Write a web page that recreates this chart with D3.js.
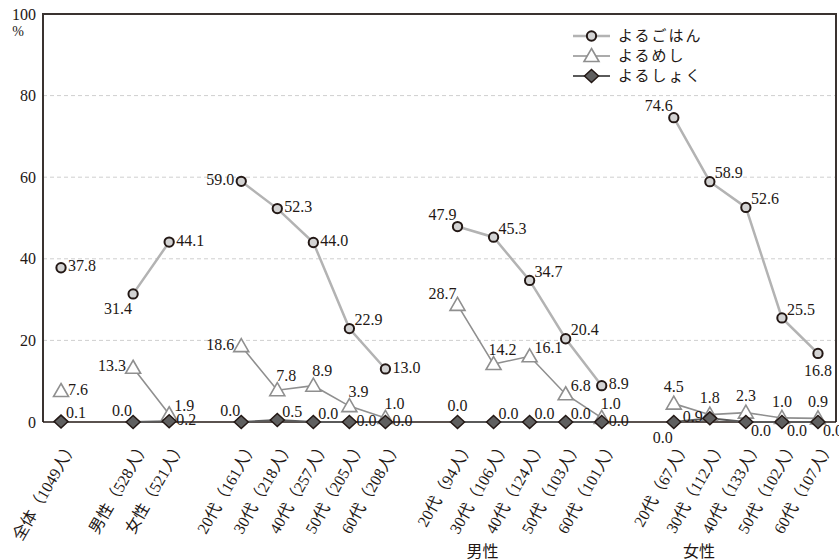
<!DOCTYPE html>
<html>
<head>
<meta charset="utf-8">
<script src="https://cdn.jsdelivr.net/npm/d3@7"></script>
<style>
  body { margin: 0; background: #fff; }
  svg, svg text { font-family: 'Liberation Serif', 'Times New Roman', 'DejaVu Serif', 'Noto Sans CJK JP', serif; }
  svg text { fill: #231815; }
</style>
</head>
<body>
<div id="chart"></div>
<script>
// categories (empty strings are the gaps between groups)
const categories = ["全体（1049人）", "", "男性（528人）", "女性（521人）", "",
  "20代（161人）", "30代（218人）", "40代（257人）", "50代（205人）", "60代（208人）", "",
  "20代（94人）", "30代（106人）", "40代（124人）", "50代（103人）", "60代（101人）", "",
  "20代（67人）", "30代（112人）", "40代（133人）", "50代（102人）", "60代（107人）"]
const groupLabels = [{ name: "男性", at: 13 }, { name: "女性", at: 19 }]

const seriesNames = ["よるごはん", "よるめし", "よるしょく"]
const gohan = [37.8, null, 31.4, 44.1, null, 59.0, 52.3, 44.0, 22.9, 13.0, null,
  47.9, 45.3, 34.7, 20.4, 8.9, null, 74.6, 58.9, 52.6, 25.5, 16.8]
const mesi = [7.6, null, 13.3, 1.9, null, 18.6, 7.8, 8.9, 3.9, 1.0, null,
  28.7, 14.2, 16.1, 6.8, 1.0, null, 4.5, 1.8, 2.3, 1.0, 0.9]
const shoku = [0.1, null, 0.0, 0.2, null, 0.0, 0.5, 0.0, 0.0, 0.0, null,
  0.0, 0.0, 0.0, 0.0, 0.0, null, 0.0, 0.9, 0.0, 0.0, 0.0]
const yTicks = [0, 20, 40, 60, 80, 100]

// where each value label sits relative to its marker
const gohanPos = ['r', null, 'bl', 'r', null, 'l', 'r', 'r', 'ar', 'r', null,
  'al', 'ar', 'ar', 'ar', 'r', null, 'al', 'ar', 'ar', 'ar', 'b']
const mesiPos = ['r', null, 'l', 'ar', null, 'l', 'ra', 'ra', 'ra', 'ra', null,
  'al', 'ra', 'ar', 'ar', 'ra', null, 'a', 'a', 'a', 'a', 'a']
const shokuPos = ['ar', null, 'al', 'r', null, 'al', 'ar', 'ar', 'r', 'r', null,
  'a', 'ar', 'ar', 'ar', 'r', null, 'bl', 'l', 'br', 'br', 'br']

const width = 839
const height = 560
const margin = { top: 14, left: 43, right: 3, bottom: 138 }

const svg = d3.select('#chart').append('svg')
  .attr('width', width)
  .attr('height', height)

const xScale = d3.scaleBand()
  .domain(d3.range(categories.length))
  .range([margin.left, width - margin.right])
const yScale = d3.scaleLinear()
  .domain([0, 100])
  .range([height - margin.bottom, margin.top])
const cx = i => xScale(i) + xScale.bandwidth() / 2

// gridlines
svg.append('g')
  .selectAll('line')
  .data(yTicks.filter(t => t > 0 && t < 100))
  .enter().append('line')
  .attr('x1', margin.left).attr('x2', width - margin.right)
  .attr('y1', d => yScale(d)).attr('y2', d => yScale(d))
  .attr('stroke', '#cfcfcf')
  .attr('stroke-dasharray', '4,3')

// frame: top, right, left, bottom
const x0 = margin.left, x1 = width - margin.right
const y0 = yScale(0), y1 = yScale(100)
svg.append('path')
  .attr('d', `M${x0},${y0}V${y1}H${x1}V${y0}`)
  .attr('fill', 'none')
  .attr('stroke', '#3a3330')
  .attr('stroke-width', 2)
svg.append('line')
  .attr('x1', x0).attr('x2', x1).attr('y1', y0).attr('y2', y0)
  .attr('stroke', '#231815').attr('stroke-width', 1.5)

// y axis labels
const yAxis = d3.axisLeft(yScale).tickValues(yTicks).tickSize(0).tickPadding(7)
const yG = svg.append('g')
  .attr('transform', `translate(${margin.left},0)`)
  .call(yAxis)
  .attr('font-size', 16)
yG.select('.domain').remove()
yG.selectAll('text').attr('fill', '#231815')
svg.append('text')
  .attr('x', 18).attr('y', 36)
  .attr('text-anchor', 'middle')
  .attr('font-size', 14)
  .text('%')

// x axis labels, rotated
const xAxis = d3.axisBottom(xScale).tickSize(0).tickFormat(i => categories[i])
const xG = svg.append('g')
  .attr('transform', `translate(0,${y0})`)
  .call(xAxis)
  .attr('font-size', 16)
xG.select('.domain').remove()
xG.selectAll('text')
  .attr('fill', '#231815')
  .attr('text-anchor', 'end')
  .attr('y', 0)
  .attr('dy', '0.35em')
  .attr('transform', 'translate(12,20) rotate(-60)')

svg.selectAll('.group-label')
  .data(groupLabels)
  .enter().append('text')
  .attr('class', 'group-label')
  .attr('x', d => cx(d.at) - 47)
  .attr('y', 557)
  .attr('text-anchor', 'middle')
  .attr('font-size', 16)
  .text(d => d.name)

// series
const styles = [
  { line: '#b3b3b3', lw: 2.5, shape: 'circle', fill: '#d3d3d3', stroke: '#231815', sw: 2 },
  { line: '#8f8f8f', lw: 1.6, shape: 'triangle', fill: '#ffffff', stroke: '#8f8f8f', sw: 1.6 },
  { line: '#5a5a5a', lw: 2, shape: 'diamond', fill: '#5f5f5f', stroke: '#231815', sw: 1.5 }
]
const series = [gohan, mesi, shoku]
const posCodes = [gohanPos, mesiPos, shokuPos]

const offsets = {
  r: [7, -2, 'start'], ar: [5, -9, 'start'], l: [-7, -2, 'end'], al: [-1, -12, 'end'],
  a: [0, -17, 'middle'], ra: [9, -15, 'middle'], b: [0, 17, 'middle'],
  bl: [-1, 15, 'end'], br: [5, 8, 'start']
}

const symbolPath = shape => {
  if (shape === 'circle') return d3.symbol().type(d3.symbolCircle).size(68)()
  if (shape === 'triangle') return 'M0,-7.5L7.5,5.5L-7.5,5.5Z'
  return 'M0,-6.5L7,0L0,6.5L-7,0Z'
}

const line = d3.line()
  .defined(d => d != null)
  .x((d, i) => cx(i))
  .y(d => yScale(d))

series.forEach((vals, s) => {
  const st = styles[s]
  svg.append('path')
    .datum(vals)
    .attr('d', line)
    .attr('fill', 'none')
    .attr('stroke', st.line)
    .attr('stroke-width', st.lw)
})

series.forEach((vals, s) => {
  const st = styles[s]
  const pts = vals.map((v, i) => ({ v, i, pos: posCodes[s][i] })).filter(d => d.v != null)
  svg.append('g').selectAll('path')
    .data(pts)
    .enter().append('path')
    .attr('d', symbolPath(st.shape))
    .attr('transform', d => `translate(${cx(d.i)},${yScale(d.v)})`)
    .attr('fill', st.fill)
    .attr('stroke', st.stroke)
    .attr('stroke-width', st.sw)
})

series.forEach((vals, s) => {
  const pts = vals.map((v, i) => ({ v, i, pos: posCodes[s][i] })).filter(d => d.v != null)
  svg.append('g').selectAll('text')
    .data(pts)
    .enter().append('text')
    .attr('x', d => cx(d.i) + offsets[d.pos][0])
    .attr('y', d => yScale(d.v) + offsets[d.pos][1])
    .attr('dy', '0.35em')
    .attr('text-anchor', d => offsets[d.pos][2])
    .attr('font-size', 16)
    .text(d => d3.format('.1f')(d.v))
})

// legend
const legend = svg.append('g').attr('transform', 'translate(573,36)')
seriesNames.forEach((name, s) => {
  const st = styles[s]
  const g = legend.append('g').attr('transform', `translate(0,${s * 20})`)
  g.append('line')
    .attr('x1', 0).attr('x2', 37)
    .attr('stroke', st.line).attr('stroke-width', st.lw)
  g.append('path')
    .attr('d', symbolPath(st.shape))
    .attr('transform', 'translate(18.5,0)')
    .attr('fill', st.fill)
    .attr('stroke', st.stroke)
    .attr('stroke-width', st.sw)
  g.append('text')
    .attr('x', 45).attr('dy', '0.35em')
    .attr('font-size', 15)
    .attr('letter-spacing', 2)
    .text(name)
})
</script>
</body>
</html>
